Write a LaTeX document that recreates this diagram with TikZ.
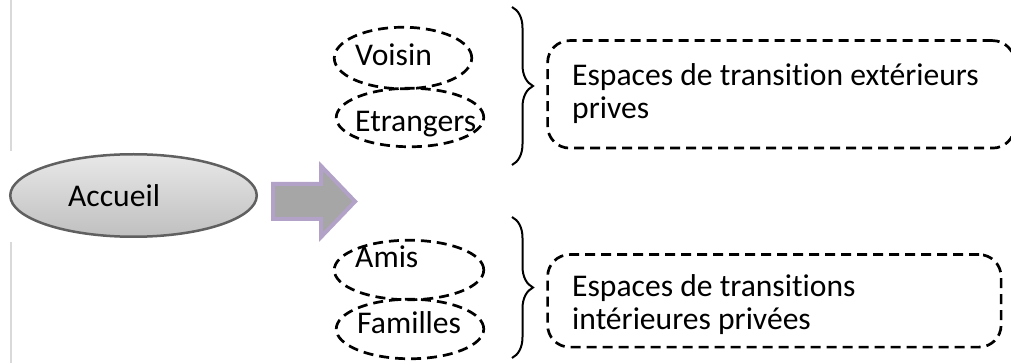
\documentclass[tikz,border=0pt]{standalone}
\usepackage{fontspec}
\setmainfont{Carlito}[Ligatures=NoCommon]
\usetikzlibrary{shapes.geometric,decorations.pathreplacing}
\definecolor{lav}{RGB}{179,162,199}
\definecolor{arrowgray}{RGB}{166,166,166}
\begin{document}
\begin{tikzpicture}[x=1pt,y=-1pt,
  dashell/.style={ellipse, draw, dash pattern=on 10pt off 6pt, line width=2.7pt, inner sep=0pt},
  dashbox/.style={rectangle, draw, rounded corners=22pt, dash pattern=on 10pt off 6pt, line width=2.7pt, inner sep=0pt},
  lbl/.style={font=\fontsize{31.6}{33}\selectfont, inner sep=0pt, anchor=base west},
  bracestyle/.style={decorate, decoration={brace, amplitude=21pt}, line width=2pt},
  blockarrow/.style={draw=lav, fill=arrowgray, line width=4pt, line join=miter},
]
\useasboundingbox (0,0) rectangle (1011,363);
\fill[white] (0,0) rectangle (1011,363);
\draw[gray!30, line width=1.2pt] (11,0) coordinate (lt) -- (11,363) coordinate (lb);
\fill[white] (5,151) rectangle (268,242);
\node[ellipse, draw=gray!75!black, line width=2.5pt, top color=gray!18, middle color=gray!6, bottom color=gray!50, minimum width=246.5pt, minimum height=82.5pt, inner sep=0pt] (acc) at (133.5,195.5) {};
\node[lbl] (acct) at (68,207) {Accueil};
\coordinate (a1) at (273,184);
\coordinate (a2) at (321,184);
\coordinate (a3) at (321,166);
\coordinate (tip) at (355,201.5);
\coordinate (a5) at (321,237);
\coordinate (a6) at (321,219);
\coordinate (a7) at (273,219);
\draw[blockarrow] (a1) -- (a2) -- (a3) -- (tip) -- (a5) -- (a6) -- (a7) -- cycle;
\node[dashell, minimum width=137.5pt, minimum height=61.5pt] (voisinE) at (403,58) {};
\node[dashell, minimum width=147.5pt, minimum height=58.5pt] (etrE) at (410,117.5) {};
\node[dashell, minimum width=149.5pt, minimum height=59.5pt] (amisE) at (409,270) {};
\node[dashell, minimum width=147.5pt, minimum height=59.5pt] (famE) at (410,329) {};
\node[lbl] (voisin) at (355,66) {Voisin};
\node[lbl] (etr) at (355,132) {Etrangers};
\node[lbl] (amis) at (355,267) {Amis};
\node[lbl] (fam) at (357,333) {Familles};
\draw[bracestyle] (512,7) coordinate (b1t) -- (512,165) coordinate (b1b);
\draw[bracestyle] (512,217) coordinate (b2t) -- (512,358) coordinate (b2b);
\node[dashbox, minimum width=467pt, minimum height=107.5pt, anchor=north west] (box1) at (546.25,39.25) {};
\node[dashbox, minimum width=453.5pt, minimum height=92.5pt, anchor=north west] (box2) at (546.25,253.25) {};
\node[lbl, align=left] (t1) at (572,119) {Espaces de transition extérieurs\\prives};
\node[lbl, align=left] (t2) at (572,329) {Espaces de transitions\\intérieures privées};
\end{tikzpicture}
\end{document}
